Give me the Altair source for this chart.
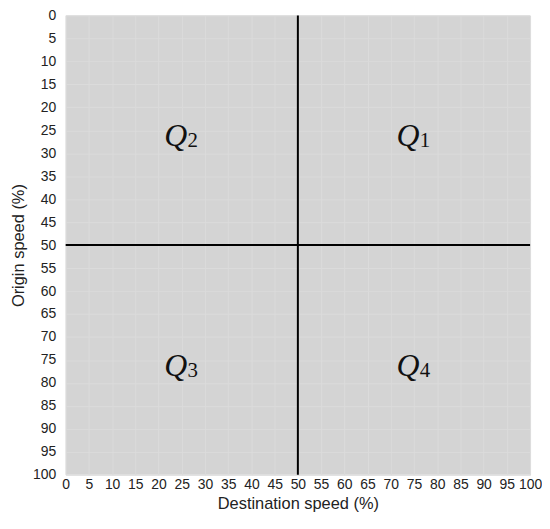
import altair as alt
import pandas as pd

# Data
tick_values = list(range(0, 101, 5))
quad_letters = ["Q", "Q", "Q", "Q"]
quad_subs = ["1", "2", "3", "4"]
quad_x = [75, 25, 25, 75]
quad_y = [25, 25, 75, 75]
divider = [50]

df_q = pd.DataFrame({"x": quad_x, "y": quad_y, "q": quad_letters, "sub": quad_subs})
df_d = pd.DataFrame({"v": divider})

xs = alt.Scale(domain=[0, 100], nice=False, zero=False)
ys = alt.Scale(domain=[0, 100], reverse=True, nice=False, zero=False)

x_axis = alt.Axis(values=tick_values, title="Destination speed (%)",
                  labelFlush=False, labelOverlap=False)
y_axis = alt.Axis(values=tick_values, title="Origin speed (%)",
                  labelFlush=False, labelOverlap=False)

base = alt.Chart(df_q)

q_text = base.mark_text(
    font="Liberation Serif", fontStyle="italic", fontSize=32,
    align="center", baseline="middle", dx=-6, dy=6, color="#111111"
).encode(
    x=alt.X("x:Q", scale=xs, axis=x_axis),
    y=alt.Y("y:Q", scale=ys, axis=y_axis),
    text="q:N",
)

sub_text = base.mark_text(
    font="Liberation Serif", fontSize=21,
    align="center", baseline="middle", dx=11, dy=11, color="#111111"
).encode(
    x=alt.X("x:Q", scale=xs, axis=x_axis),
    y=alt.Y("y:Q", scale=ys, axis=y_axis),
    text="sub:N",
)

vline = alt.Chart(df_d).mark_rule(color="black", strokeWidth=2).encode(
    x=alt.X("v:Q", scale=xs, axis=x_axis)
)
hline = alt.Chart(df_d).mark_rule(color="black", strokeWidth=2).encode(
    y=alt.Y("v:Q", scale=ys, axis=y_axis)
)

chart = alt.layer(q_text, sub_text, vline, hline).properties(
    width=467, height=462,
    autosize="none",
    padding={"left": 58, "top": 6, "right": 12, "bottom": 45},
).configure_view(
    fill="#d4d4d4", stroke=None
).configure_axis(
    domain=False, ticks=False, tickSize=0,
    grid=True, gridColor="#dbdbdb", gridWidth=1,
    labelFont="Liberation Sans", labelFontSize=14, labelColor="#222222",
    titleFont="Liberation Sans", titleFontSize=16.5, titleFontWeight="normal",
    titleColor="#222222",
).configure_axisY(
    labelPadding=10, titlePadding=6
).configure_axisX(
    labelPadding=3, titlePadding=4
)

chart.save("out.html", embed_options={"renderer": "svg", "actions": False})
